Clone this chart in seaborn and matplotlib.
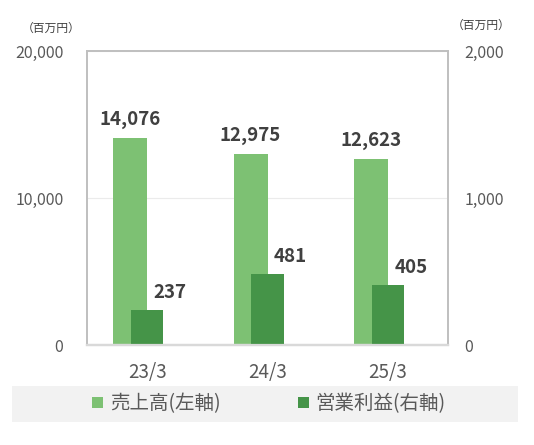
import matplotlib
matplotlib.use("Agg")
import matplotlib.pyplot as plt
import seaborn as sns
from matplotlib.patches import Rectangle, Patch
from matplotlib.ticker import FuncFormatter

categories = ["23/3", "24/3", "25/3"]
sales = [14076, 12975, 12623]
profit = [237, 481, 405]
left_ticks = [0, 10000, 20000]
right_ticks = [0, 1000, 2000]
legend_labels = ["売上高(左軸)", "営業利益(右軸)"]
unit_label = "（百万円）"

sns.set_theme(style="white")
plt.rcParams['font.family'] = ['Noto Sans CJK JP', 'DejaVu Sans']

LIGHT = "#7DC173"
DARK = "#459448"
TXT = "#595959"
LBL = "#404040"

fig = plt.figure(figsize=(5.34, 4.45), dpi=100)
W, H = 534, 445
ax = fig.add_axes([87 / W, 100 / H, 361 / W, 294 / H])

sns.barplot(x=categories, y=sales, ax=ax, color=LIGHT, width=0.283,
            saturation=1, errorbar=None)
for p in ax.patches:
    p.set_x(p.get_x() - 0.141)
    p.set_edgecolor("none")

ax2 = ax.twinx()
sns.barplot(x=categories, y=profit, ax=ax2, color=DARK, width=0.266,
            saturation=1, errorbar=None)
for p in ax2.patches:
    p.set_edgecolor("none")

ax.set_xlim(-0.5, 2.5)
ax2.set_xlim(-0.5, 2.5)
ax.set_ylim(0, 20000)
ax2.set_ylim(0, 2000)
ax.set_yticks(left_ticks)
ax2.set_yticks(right_ticks)
fmt = FuncFormatter(lambda v, _: f"{int(v):,}")
ax.yaxis.set_major_formatter(fmt)
ax2.yaxis.set_major_formatter(fmt)
ax.set_xlabel("")
ax.set_ylabel("")
ax2.set_ylabel("")
ax2.set_xlabel("")

ax.yaxis.grid(True, color="#EBEBEB", linewidth=0.8)
ax.set_axisbelow(True)
ax.tick_params(axis="y", length=0, pad=17, labelsize=11.5, labelcolor=TXT)
ax2.tick_params(axis="y", length=0, pad=12, labelsize=11.5, labelcolor=TXT)
ax.tick_params(axis="x", length=0, pad=12, labelsize=13.5, labelcolor=TXT)
for a in (ax, ax2):
    for s in a.spines.values():
        s.set_color("#BFBFBF")
        s.set_linewidth(1.2)
    a.spines["bottom"].set_color("#D9D9D9")
    a.spines["bottom"].set_linewidth(1.6)

for p, v in zip(ax.patches, sales):
    ax.annotate(f"{v:,}", (p.get_x() + p.get_width() / 2, p.get_height()),
                xytext=(0, 6.5), textcoords="offset points", ha="center",
                va="bottom", fontsize=13.5, fontweight="bold", color=LBL)
for p, v in zip(ax2.patches, profit):
    ax2.annotate(f"{v:,}", (p.get_x() + p.get_width() / 2, p.get_height()),
                 xytext=(16.5, 6), textcoords="offset points", ha="center",
                 va="bottom", fontsize=13.5, fontweight="bold", color=LBL)

fig.text(22 / W, 1 - 28 / H, unit_label, fontsize=8.5, color="#404040",
         ha="left", va="center")
fig.text(452 / W, 1 - 25 / H, unit_label, fontsize=8.5, color="#404040",
         ha="left", va="center")

fig.patches.append(Rectangle((12 / W, 1 - 422 / H), 506 / W, 36 / H,
                             transform=fig.transFigure, facecolor="#F2F2F2",
                             edgecolor="none", zorder=0))
handles = [Patch(facecolor=LIGHT, edgecolor="none"),
           Patch(facecolor=DARK, edgecolor="none")]
leg = fig.legend(handles, legend_labels, loc="center",
                 bbox_to_anchor=(269 / W, 1 - 404 / H), ncol=2, frameon=False,
                 fontsize=14, handlelength=0.55, handleheight=0.55,
                 handletextpad=0.35, columnspacing=4.0)
for t in leg.get_texts():
    t.set_color(TXT)

fig.savefig("out.png", dpi=100)
